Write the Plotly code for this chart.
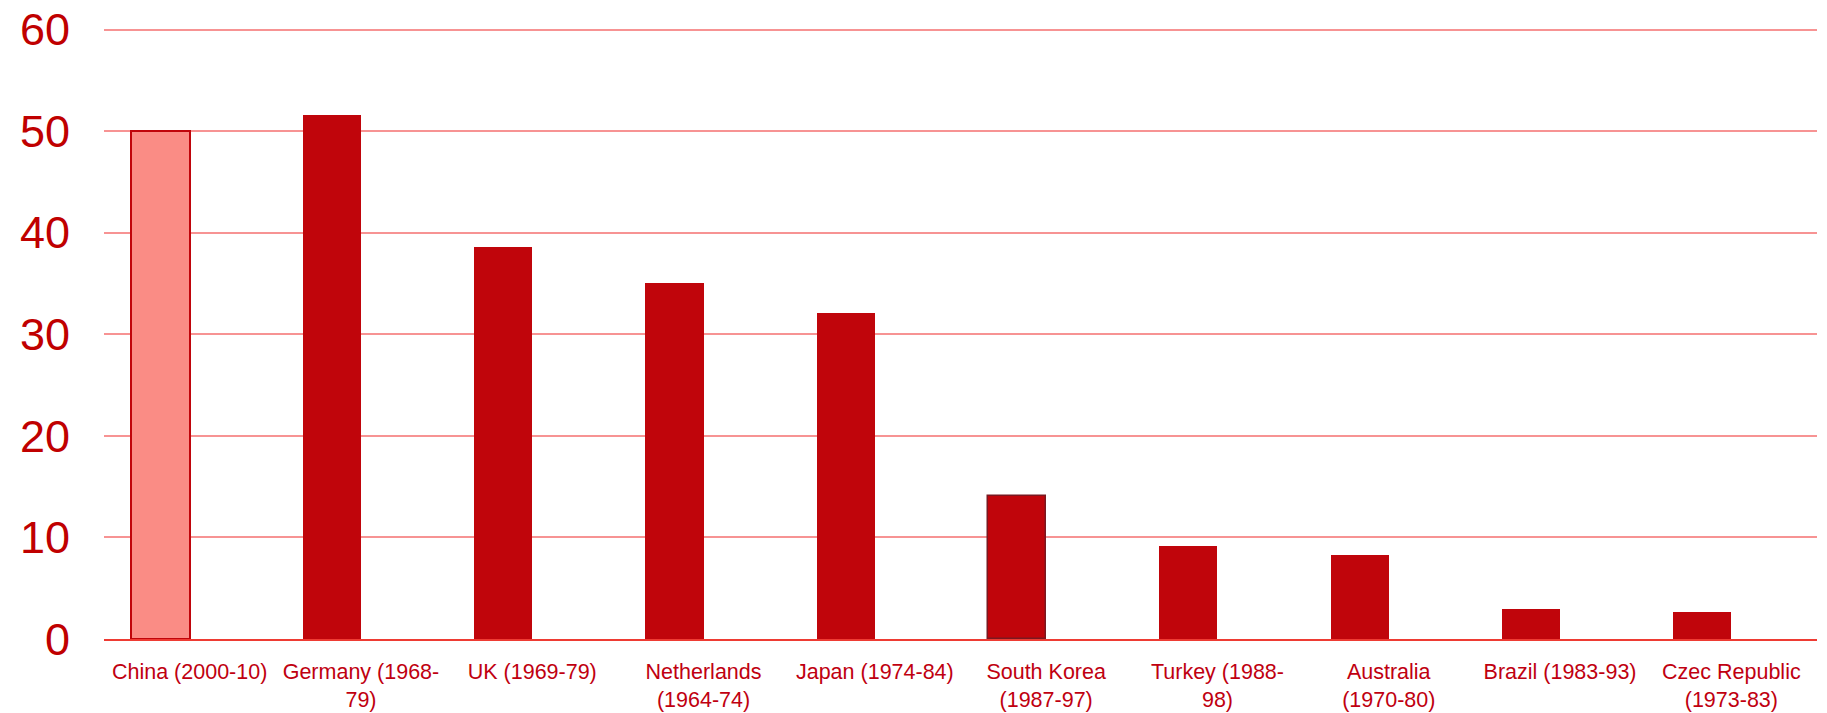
import plotly.graph_objects as go

categories = ["China (2000-10)", "Germany (1968-<br>79)", "UK (1969-79)", "Netherlands<br>(1964-74)",
              "Japan (1974-84)", "South Korea<br>(1987-97)", "Turkey (1988-<br>98)", "Australia<br>(1970-80)",
              "Brazil (1983-93)", "Czec Republic<br>(1973-83)"]
values = [50.0, 51.6, 38.6, 35.0, 32.1, 14.1, 9.15, 8.25, 3.0, 2.7]
y_ticks = [0, 10, 20, 30, 40, 50, 60]

dark = "#C0050B"
fill_colors = ["#FA8C85"] + [dark] * 9
line_colors = [dark, dark, dark, dark, dark, "#7A1820", dark, dark, dark, dark]
line_widths = [2, 0, 0, 0, 0, 1.5, 0, 0, 0, 0]

y_max = 60.15
bottom = 74
plot_h = (713 - bottom - 30) * y_max / 60
top = round(713 - bottom - plot_h)

fig = go.Figure()
fig.add_trace(go.Bar(
    x=categories, y=values,
    width=0.34, offset=-0.34,
    marker=dict(color=fill_colors, line=dict(color=line_colors, width=line_widths)),
    showlegend=False,
))

fig.update_layout(
    width=1827, height=713,
    margin=dict(l=104, r=10, t=top, b=bottom, autoexpand=False),
    paper_bgcolor="white", plot_bgcolor="white",
    font=dict(family="Liberation Sans, Arial, sans-serif", color="#C00000"),
    bargap=0,
    xaxis=dict(
        showline=True, linecolor="#EE3B33", linewidth=2,
        showgrid=False, ticks="",
        tickfont=dict(size=21.5, color="#C00010"),
        ticklabelstandoff=12,
        tickangle=0, automargin=False,
    ),
    yaxis=dict(
        range=[0, y_max], tickvals=y_ticks,
        showgrid=True, gridcolor="#F79393", gridwidth=1.6,
        zeroline=False, showline=False, ticks="",
        tickfont=dict(size=45, color="#C00000"),
        ticklabelstandoff=33, automargin=False,
    ),
)

fig.write_html("out.html")
